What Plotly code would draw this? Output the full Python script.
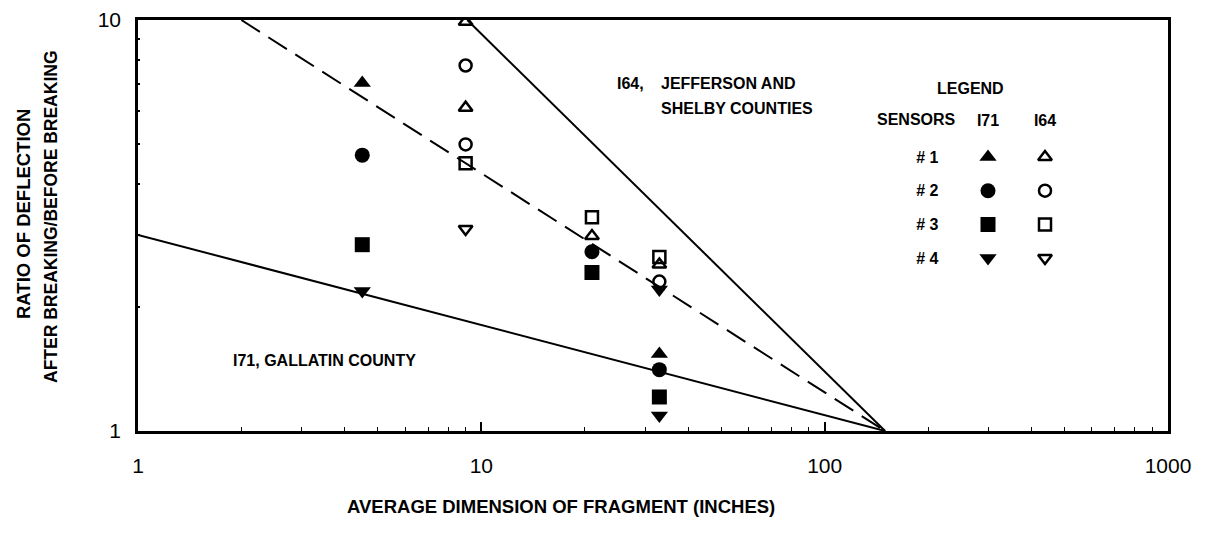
import plotly.graph_objects as go

# ---------------- data ----------------
# I71 (Gallatin County) - filled markers
i71_x_s1 = [4.5, 33]
i71_y_s1 = [7.03, 1.54]
i71_x_s2 = [4.5, 21, 33]
i71_y_s2 = [4.69, 2.73, 1.41]
i71_x_s3 = [4.5, 21, 33]
i71_y_s3 = [2.84, 2.43, 1.21]
i71_x_s4 = [4.5, 33, 33]
i71_y_s4 = [2.19, 2.21, 1.09]

# I64 (Jefferson and Shelby Counties) - open markers
i64_x_s1 = [9, 9, 21, 33]
i64_y_s1 = [9.9, 6.12, 2.98, 2.54]
i64_x_s2 = [9, 9, 33]
i64_y_s2 = [7.75, 4.98, 2.31]
i64_x_s3 = [9, 21, 33]
i64_y_s3 = [4.48, 3.31, 2.65]
i64_x_s4 = [9]
i64_y_s4 = [3.1]

# fitted lines
line_i71_x = [1, 150]
line_i71_y = [3.0, 1.0]
line_mid_x = [2, 150]
line_mid_y = [10.0, 1.0]
line_i64_x = [9.1, 150]
line_i64_y = [10.0, 1.0]

legend_rows = ["# 1", "# 2", "# 3", "# 4"]
legend_cols = ["I71", "I64"]
filled_symbols = ["triangle-up", "circle", "square", "triangle-down"]
open_symbols = ["triangle-up-open", "circle-open", "square-open", "triangle-down-open"]

FONT = "Liberation Sans Narrow, Arial Narrow, Liberation Sans, Arial, sans-serif"

# page offset of the plot div inside the browser window
OX, OY = 8, 8
# plot area in screen pixels
L, R, T, B = 138, 1168, 20, 431
W, H = 1207, 538


def px(x):
    return (x - L) / (R - L)


def py(y):
    return (B - y) / (B - T)


fig = go.Figure()

# lines
fig.add_trace(go.Scatter(x=line_i71_x, y=line_i71_y, mode="lines",
                         line=dict(color="black", width=2), showlegend=False))
fig.add_trace(go.Scatter(x=line_mid_x, y=line_mid_y, mode="lines",
                         line=dict(color="black", width=2, dash="22px,10px"), showlegend=False))
fig.add_trace(go.Scatter(x=line_i64_x, y=line_i64_y, mode="lines",
                         line=dict(color="black", width=2), showlegend=False))

i71_sets = [(i71_x_s1, i71_y_s1), (i71_x_s2, i71_y_s2), (i71_x_s3, i71_y_s3), (i71_x_s4, i71_y_s4)]
i64_sets = [(i64_x_s1, i64_y_s1), (i64_x_s2, i64_y_s2), (i64_x_s3, i64_y_s3), (i64_x_s4, i64_y_s4)]

for (xs, ys), sym in zip(i64_sets, open_symbols):
    fig.add_trace(go.Scatter(x=xs, y=ys, mode="markers", cliponaxis=True,
                             marker=dict(symbol=sym, size=12, color="black",
                                         line=dict(color="black", width=2.5)),
                             showlegend=False))
for (xs, ys), sym in zip(i71_sets, filled_symbols):
    fig.add_trace(go.Scatter(x=xs, y=ys, mode="markers",
                             marker=dict(symbol=sym, size=15, color="black"),
                             showlegend=False))

# legend grid drawn on an inset categorical axis pair
for i, (fs, os_) in enumerate(zip(filled_symbols, open_symbols)):
    fig.add_trace(go.Scatter(x=[legend_cols[0]], y=[legend_rows[i]], xaxis="x2", yaxis="y2",
                             mode="markers", marker=dict(symbol=fs, size=15, color="black"),
                             showlegend=False))
    fig.add_trace(go.Scatter(x=[legend_cols[1]], y=[legend_rows[i]], xaxis="x2", yaxis="y2",
                             mode="markers",
                             marker=dict(symbol=os_, size=12, color="black",
                                         line=dict(color="black", width=2.5)),
                             showlegend=False))

ann_font = dict(family=FONT, size=16, color="black")
title_font = dict(family=FONT, size=18.5, color="black")

annotations = [
    dict(x=px(615), y=py(83), text="<b>I64,</b>", xanchor="left", yanchor="middle", font=ann_font),
    dict(x=px(659), y=py(83), text="<b>JEFFERSON AND</b>", xanchor="left", yanchor="middle", font=ann_font),
    dict(x=px(659), y=py(109), text="<b>SHELBY COUNTIES</b>", xanchor="left", yanchor="middle", font=ann_font),
    dict(x=px(231), y=py(360), text="<b>I71, GALLATIN COUNTY</b>", xanchor="left", yanchor="middle", font=ann_font),
    dict(x=px(970), y=py(88), text="<b>LEGEND</b>", xanchor="center", yanchor="middle", font=ann_font),
    dict(x=px(958), y=py(119), text="<b>SENSORS</b>", xanchor="right", yanchor="middle", font=ann_font),
    dict(x=px(561), y=py(506), text="<b>AVERAGE DIMENSION OF FRAGMENT (INCHES)</b>",
         xanchor="center", yanchor="middle", font=title_font),
    dict(x=px(23), y=py(214), text="<b>RATIO OF DEFLECTION</b>", textangle=-90,
         xanchor="center", yanchor="middle", font=title_font),
    dict(x=px(51), y=py(217), text="<b>AFTER BREAKING/BEFORE BREAKING</b>", textangle=-90,
         xanchor="center", yanchor="middle", font=dict(family=FONT, size=17.5, color="black")),
]
for a in annotations:
    a.update(xref="paper", yref="paper", showarrow=False)

tick_font = dict(family="Liberation Sans, Arial, sans-serif", size=21, color="black")

fig.update_layout(
    width=W, height=H,
    margin=dict(l=L - OX, r=W - (R - OX), t=T - OY, b=H - (B - OY), autoexpand=False),
    paper_bgcolor="white", plot_bgcolor="white",
    showlegend=False,
    annotations=annotations,
    xaxis=dict(type="log", range=[0, 3], dtick=1, showgrid=False, zeroline=False,
               showline=True, linecolor="black", linewidth=2.5, mirror=True,
               ticks="inside", ticklen=9, tickwidth=1.5, tickcolor="black",
               minor=dict(ticks="inside", ticklen=4, tickwidth=1, tickcolor="black",
                          dtick="D1", showgrid=False),
               tickfont=tick_font, ticklabelstandoff=14, automargin=False,
               ticklabeloverflow="allow"),
    yaxis=dict(type="log", range=[0, 1], dtick=1, showgrid=False, zeroline=False,
               showline=True, linecolor="black", linewidth=2.5, mirror=True,
               ticks="inside", ticklen=4, tickwidth=1.5, tickcolor="black",
               minor=dict(ticks="inside", ticklen=2, tickwidth=1.5, tickcolor="black",
                          dtick="D1", showgrid=False),
               tickfont=tick_font, ticklabelstandoff=10, automargin=False,
               ticklabeloverflow="allow"),
    xaxis2=dict(domain=[px(959.5), px(1073.5)], anchor="y2", type="category",
                categoryorder="array", categoryarray=legend_cols, range=[-0.5, 1.5],
                side="top", showgrid=False, zeroline=False, showline=False, ticks="",
                tickfont=dict(family=FONT, size=16, color="black"), ticklabelstandoff=10,
                tickprefix="<b>", ticksuffix="</b>", fixedrange=True, automargin=False),
    yaxis2=dict(domain=[py(274.9), py(140.2)], anchor="x2", type="category",
                categoryorder="array", categoryarray=legend_rows, range=[3.5, -0.5],
                showgrid=False, zeroline=False, showline=False, ticks="",
                tickfont=dict(family=FONT, size=16, color="black"), ticklabelstandoff=20,
                tickprefix="<b>", ticksuffix="</b>", fixedrange=True, automargin=False),
)

fig.write_html("out.html")
